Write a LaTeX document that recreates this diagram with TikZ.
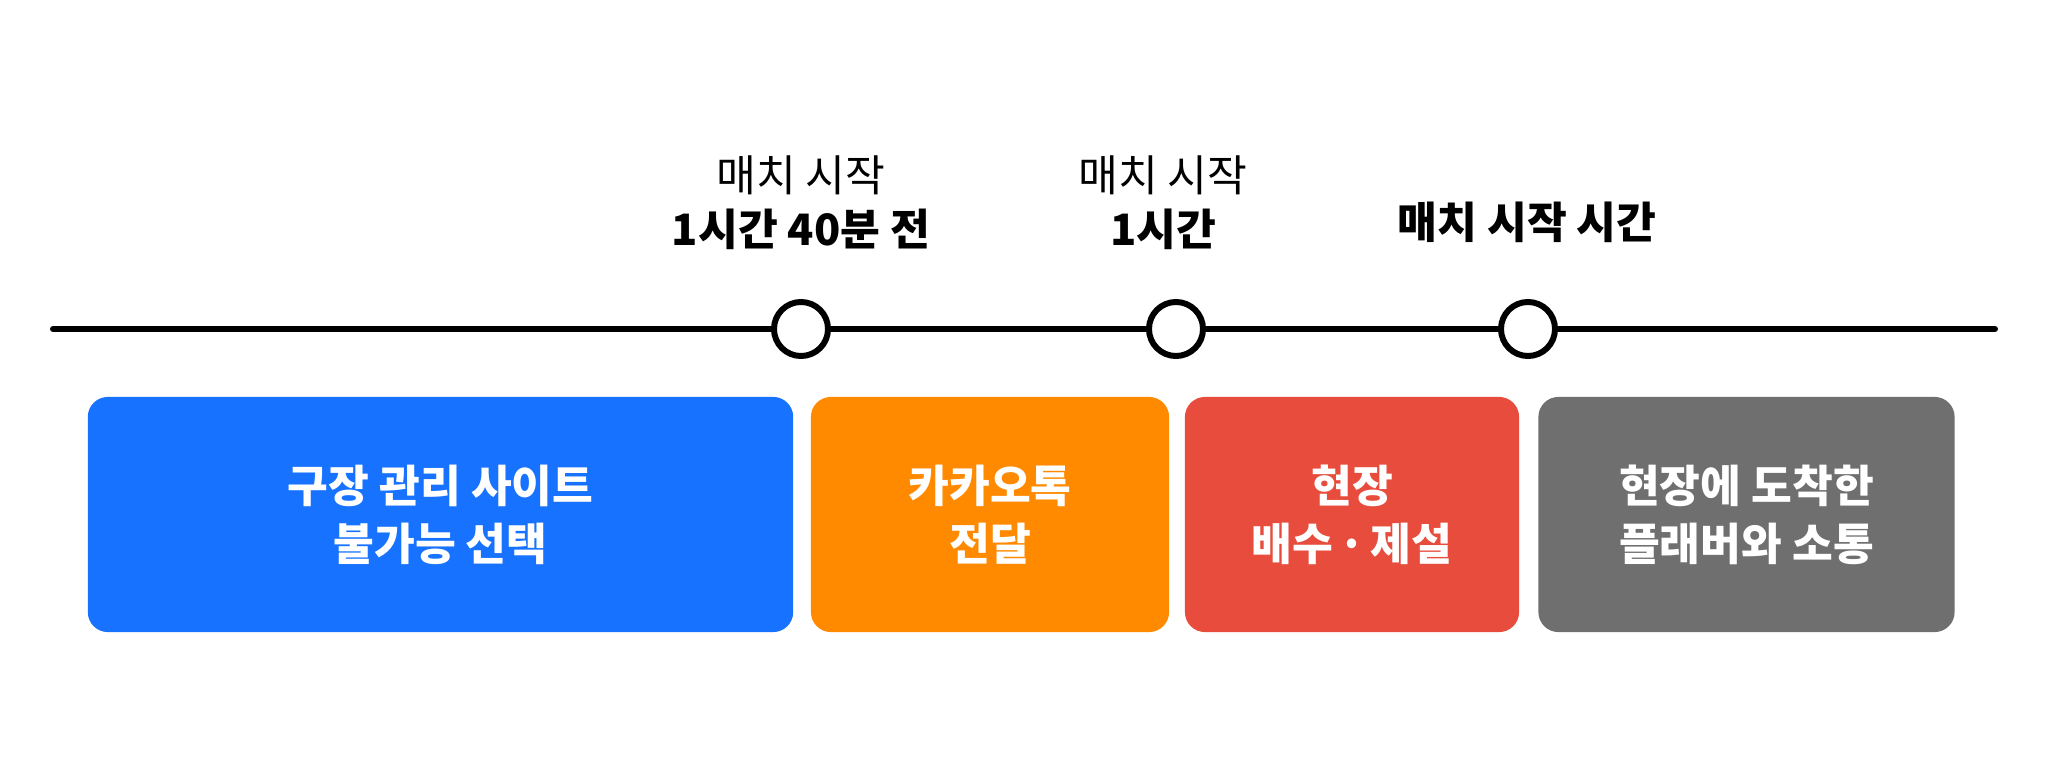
\documentclass[tikz,border=0pt]{standalone}
\usepackage{fontspec}
\setmainfont{Noto Sans CJK KR}
\definecolor{cblue}{HTML}{1672FF}
\definecolor{corange}{HTML}{FF8A00}
\definecolor{cred}{HTML}{E74C3C}
\definecolor{cgray}{HTML}{6F6F6F}
\begin{document}
\begin{tikzpicture}[x=0.01cm,y=-0.01cm,
  phase/.style={rounded corners=0.2cm, minimum height=2.35cm, inner sep=0pt,
    text=white, font=\fontsize{12.6pt}{16.5pt}\selectfont\bfseries, align=center},
  tick/.style={circle, draw=black, fill=white, line width=1.7pt, minimum size=0.54cm, inner sep=0pt},
  lbl/.style={align=center, font=\fontsize{12.3pt}{15.4pt}\selectfont, text=black}
]
\useasboundingbox (0,0) rectangle (2048,779);
\coordinate (L) at (53,329);
\coordinate (R) at (1995,329);
\draw[line width=1.7pt, line cap=round] (L) -- (R);
\node[tick] (c1) at (801,329) {};
\node[tick] (c2) at (1176,329) {};
\node[tick] (c3) at (1528,329) {};

\node[lbl] (t1) at (801,203) {매치 시작\\\textbf{1시간 40분 전}};
\node[lbl] (t2) at (1163,203) {매치 시작\\\textbf{1시간}};
\node[lbl] (t3) at (1527,222) {\textbf{매치 시작 시간}};

\node[phase, fill=cblue, minimum width=7.05cm] (b1) at (440.5,514.5) {구장 관리 사이트\\불가능 선택};
\node[phase, fill=corange, minimum width=3.58cm] (b2) at (990,514.5) {카카오톡\\전달};
\node[phase, fill=cred, minimum width=3.34cm] (b3) at (1352,514.5) {현장\\배수\makebox[0.85em]{·}제설};
\node[phase, fill=cgray, minimum width=4.16cm] (b4) at (1746.5,514.5) {현장에 도착한\\플래버와 소통};
\end{tikzpicture}
\end{document}
